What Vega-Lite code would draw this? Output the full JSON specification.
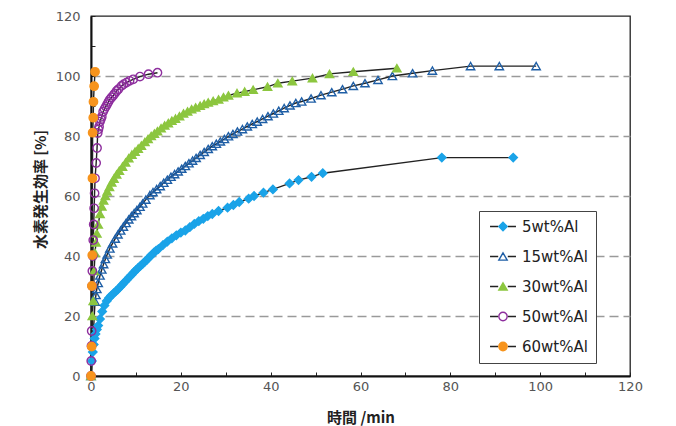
{
  "$schema": "https://vega.github.io/schema/vega-lite/v6.json",
  "width": 539,
  "height": 360,
  "autosize": "none",
  "padding": {"left": 91, "top": 16, "right": 46, "bottom": 50},
  "background": "white",
  "config": {
    "view": {"stroke": "#222", "strokeWidth": 1.3},
    "axis": {
      "labelFont": "DejaVu Sans", "labelFontSize": 13, "labelColor": "#555", "labelFlush": false, "labelOverlap": false,
      "titleFont": "Noto Sans CJK JP", "titleFontSize": 15, "titleFontWeight": "bold", "titleColor": "#222",
      "domainColor": "#111", "domainWidth": 2, "tickColor": "#222", "tickWidth": 1, "tickSize": -4
    }
  },
  "data": {"values": [
    {"series":"5wt%Al","time":0,"eff":0},{"series":"5wt%Al","time":0.2,"eff":5},{"series":"5wt%Al","time":0.4,"eff":8},{"series":"5wt%Al","time":0.6,"eff":10.5},{"series":"5wt%Al","time":0.8,"eff":12.5},{"series":"5wt%Al","time":1,"eff":14},{"series":"5wt%Al","time":1.3,"eff":15.5},{"series":"5wt%Al","time":1.6,"eff":16.8},{"series":"5wt%Al","time":2,"eff":19},{"series":"5wt%Al","time":2.5,"eff":21.5},{"series":"5wt%Al","time":3,"eff":23.5},{"series":"5wt%Al","time":3.5,"eff":25},{"series":"5wt%Al","time":4,"eff":26},{"series":"5wt%Al","time":4.5,"eff":26.8},{"series":"5wt%Al","time":5,"eff":27.5},{"series":"5wt%Al","time":5.5,"eff":28.2},{"series":"5wt%Al","time":6,"eff":28.9},{"series":"5wt%Al","time":6.5,"eff":29.7},{"series":"5wt%Al","time":7,"eff":30.5},{"series":"5wt%Al","time":7.5,"eff":31.3},{"series":"5wt%Al","time":8,"eff":32.1},{"series":"5wt%Al","time":8.5,"eff":32.9},{"series":"5wt%Al","time":9,"eff":33.7},{"series":"5wt%Al","time":9.5,"eff":34.5},{"series":"5wt%Al","time":10,"eff":35.3},{"series":"5wt%Al","time":10.5,"eff":36},{"series":"5wt%Al","time":11,"eff":36.7},{"series":"5wt%Al","time":11.5,"eff":37.4},{"series":"5wt%Al","time":12,"eff":38.1},{"series":"5wt%Al","time":12.5,"eff":38.8},{"series":"5wt%Al","time":13,"eff":39.6},{"series":"5wt%Al","time":13.5,"eff":40.4},{"series":"5wt%Al","time":14,"eff":41.1},{"series":"5wt%Al","time":14.5,"eff":41.8},{"series":"5wt%Al","time":15,"eff":42.3},{"series":"5wt%Al","time":16,"eff":43.6},{"series":"5wt%Al","time":17,"eff":44.8},{"series":"5wt%Al","time":18,"eff":45.9},{"series":"5wt%Al","time":19,"eff":46.9},{"series":"5wt%Al","time":20,"eff":47.8},{"series":"5wt%Al","time":21,"eff":48.5},{"series":"5wt%Al","time":22,"eff":49.6},{"series":"5wt%Al","time":23,"eff":50.7},{"series":"5wt%Al","time":24,"eff":51.6},{"series":"5wt%Al","time":25,"eff":52.4},{"series":"5wt%Al","time":26,"eff":53.3},{"series":"5wt%Al","time":27,"eff":54},{"series":"5wt%Al","time":28.4,"eff":55},{"series":"5wt%Al","time":30.4,"eff":56.1},{"series":"5wt%Al","time":31.7,"eff":57},{"series":"5wt%Al","time":33,"eff":58},{"series":"5wt%Al","time":35.1,"eff":59.1},{"series":"5wt%Al","time":36.3,"eff":60},{"series":"5wt%Al","time":38.4,"eff":61.1},{"series":"5wt%Al","time":40.5,"eff":62.2},{"series":"5wt%Al","time":44.2,"eff":64.2},{"series":"5wt%Al","time":46.2,"eff":65.3},{"series":"5wt%Al","time":49.1,"eff":66.4},{"series":"5wt%Al","time":51.6,"eff":67.6},{"series":"5wt%Al","time":78.1,"eff":72.8},{"series":"5wt%Al","time":94,"eff":72.8},
    {"series":"15wt%Al","time":0,"eff":0},{"series":"15wt%Al","time":0.9,"eff":24.8},{"series":"15wt%Al","time":1.1,"eff":27},{"series":"15wt%Al","time":1.3,"eff":29},{"series":"15wt%Al","time":1.6,"eff":31},{"series":"15wt%Al","time":2,"eff":33.5},{"series":"15wt%Al","time":2.4,"eff":35.5},{"series":"15wt%Al","time":2.8,"eff":37.3},{"series":"15wt%Al","time":3.2,"eff":39},{"series":"15wt%Al","time":3.6,"eff":40.5},{"series":"15wt%Al","time":4.2,"eff":42.5},{"series":"15wt%Al","time":4.8,"eff":44.2},{"series":"15wt%Al","time":5.4,"eff":45.8},{"series":"15wt%Al","time":6,"eff":47.2},{"series":"15wt%Al","time":6.6,"eff":48.5},{"series":"15wt%Al","time":7.2,"eff":49.8},{"series":"15wt%Al","time":7.8,"eff":51},{"series":"15wt%Al","time":8.4,"eff":52.2},{"series":"15wt%Al","time":9,"eff":53.3},{"series":"15wt%Al","time":9.6,"eff":54.3},{"series":"15wt%Al","time":10.2,"eff":55.3},{"series":"15wt%Al","time":10.9,"eff":56.4},{"series":"15wt%Al","time":11.5,"eff":57.5},{"series":"15wt%Al","time":12.2,"eff":58.8},{"series":"15wt%Al","time":13.1,"eff":60.3},{"series":"15wt%Al","time":13.8,"eff":61.3},{"series":"15wt%Al","time":14.6,"eff":62.3},{"series":"15wt%Al","time":15.4,"eff":63.3},{"series":"15wt%Al","time":16.2,"eff":64.4},{"series":"15wt%Al","time":17,"eff":65.4},{"series":"15wt%Al","time":17.8,"eff":66.4},{"series":"15wt%Al","time":18.6,"eff":67.3},{"series":"15wt%Al","time":19.4,"eff":68.2},{"series":"15wt%Al","time":20.2,"eff":69.1},{"series":"15wt%Al","time":21,"eff":70},{"series":"15wt%Al","time":21.8,"eff":70.9},{"series":"15wt%Al","time":22.6,"eff":71.8},{"series":"15wt%Al","time":23.4,"eff":72.7},{"series":"15wt%Al","time":24.3,"eff":73.7},{"series":"15wt%Al","time":25.2,"eff":74.7},{"series":"15wt%Al","time":26.1,"eff":75.7},{"series":"15wt%Al","time":27,"eff":76.6},{"series":"15wt%Al","time":27.9,"eff":77.4},{"series":"15wt%Al","time":28.8,"eff":78.2},{"series":"15wt%Al","time":29.7,"eff":79},{"series":"15wt%Al","time":30.6,"eff":79.9},{"series":"15wt%Al","time":31.6,"eff":80.7},{"series":"15wt%Al","time":32.6,"eff":81.5},{"series":"15wt%Al","time":33.7,"eff":82.3},{"series":"15wt%Al","time":34.8,"eff":83.2},{"series":"15wt%Al","time":35.9,"eff":84},{"series":"15wt%Al","time":37,"eff":84.8},{"series":"15wt%Al","time":38.2,"eff":85.7},{"series":"15wt%Al","time":39.4,"eff":86.6},{"series":"15wt%Al","time":40.6,"eff":87.5},{"series":"15wt%Al","time":41.8,"eff":88.4},{"series":"15wt%Al","time":43,"eff":89.3},{"series":"15wt%Al","time":44.3,"eff":90.2},{"series":"15wt%Al","time":45.6,"eff":91},{"series":"15wt%Al","time":46.9,"eff":91.5},{"series":"15wt%Al","time":49,"eff":92.5},{"series":"15wt%Al","time":51.2,"eff":93.6},{"series":"15wt%Al","time":53.6,"eff":94.6},{"series":"15wt%Al","time":56,"eff":95.6},{"series":"15wt%Al","time":58.4,"eff":96.7},{"series":"15wt%Al","time":61,"eff":97.6},{"series":"15wt%Al","time":63.9,"eff":98.7},{"series":"15wt%Al","time":67.1,"eff":100},{"series":"15wt%Al","time":71.6,"eff":100.9},{"series":"15wt%Al","time":76,"eff":101.8},{"series":"15wt%Al","time":84.5,"eff":103.3},{"series":"15wt%Al","time":90.9,"eff":103.3},{"series":"15wt%Al","time":99.1,"eff":103.3},
    {"series":"30wt%Al","time":0,"eff":0},{"series":"30wt%Al","time":0.3,"eff":20},{"series":"30wt%Al","time":0.5,"eff":25},{"series":"30wt%Al","time":0.7,"eff":35},{"series":"30wt%Al","time":0.9,"eff":41},{"series":"30wt%Al","time":1.1,"eff":44.5},{"series":"30wt%Al","time":1.3,"eff":47.5},{"series":"30wt%Al","time":1.6,"eff":50.5},{"series":"30wt%Al","time":2,"eff":54},{"series":"30wt%Al","time":2.4,"eff":56.5},{"series":"30wt%Al","time":2.8,"eff":58.5},{"series":"30wt%Al","time":3.2,"eff":60},{"series":"30wt%Al","time":3.6,"eff":61.5},{"series":"30wt%Al","time":4.1,"eff":63},{"series":"30wt%Al","time":4.6,"eff":64.5},{"series":"30wt%Al","time":5.1,"eff":65.8},{"series":"30wt%Al","time":5.7,"eff":67.2},{"series":"30wt%Al","time":6.3,"eff":68.4},{"series":"30wt%Al","time":7,"eff":69.8},{"series":"30wt%Al","time":7.7,"eff":71.2},{"series":"30wt%Al","time":8.4,"eff":72.6},{"series":"30wt%Al","time":9.1,"eff":73.8},{"series":"30wt%Al","time":9.8,"eff":74.8},{"series":"30wt%Al","time":10.5,"eff":75.8},{"series":"30wt%Al","time":11.2,"eff":76.8},{"series":"30wt%Al","time":12,"eff":78},{"series":"30wt%Al","time":12.7,"eff":79},{"series":"30wt%Al","time":13.4,"eff":80},{"series":"30wt%Al","time":14.1,"eff":80.8},{"series":"30wt%Al","time":14.8,"eff":81.6},{"series":"30wt%Al","time":15.6,"eff":82.6},{"series":"30wt%Al","time":16.4,"eff":83.5},{"series":"30wt%Al","time":17.2,"eff":84.3},{"series":"30wt%Al","time":18,"eff":85.1},{"series":"30wt%Al","time":18.8,"eff":85.8},{"series":"30wt%Al","time":19.7,"eff":86.6},{"series":"30wt%Al","time":20.6,"eff":87.5},{"series":"30wt%Al","time":21.5,"eff":88.2},{"series":"30wt%Al","time":22.4,"eff":88.9},{"series":"30wt%Al","time":23.3,"eff":89.5},{"series":"30wt%Al","time":24.3,"eff":90.1},{"series":"30wt%Al","time":25.2,"eff":90.7},{"series":"30wt%Al","time":26.1,"eff":91.2},{"series":"30wt%Al","time":27.2,"eff":91.7},{"series":"30wt%Al","time":28.4,"eff":92.2},{"series":"30wt%Al","time":29.5,"eff":92.9},{"series":"30wt%Al","time":30.6,"eff":93.5},{"series":"30wt%Al","time":32.5,"eff":94.3},{"series":"30wt%Al","time":34.2,"eff":94.8},{"series":"30wt%Al","time":36.1,"eff":95.4},{"series":"30wt%Al","time":39.3,"eff":96.4},{"series":"30wt%Al","time":41.6,"eff":97.6},{"series":"30wt%Al","time":44.8,"eff":98.3},{"series":"30wt%Al","time":49.3,"eff":99.3},{"series":"30wt%Al","time":53.1,"eff":100.7},{"series":"30wt%Al","time":58.4,"eff":101.4},{"series":"30wt%Al","time":68.1,"eff":102.6},
    {"series":"50wt%Al","time":0,"eff":0},{"series":"50wt%Al","time":0.05,"eff":5},{"series":"50wt%Al","time":0.1,"eff":10},{"series":"50wt%Al","time":0.15,"eff":15},{"series":"50wt%Al","time":0.25,"eff":30},{"series":"50wt%Al","time":0.3,"eff":35},{"series":"50wt%Al","time":0.4,"eff":40},{"series":"50wt%Al","time":0.5,"eff":45.3},{"series":"50wt%Al","time":0.6,"eff":50.5},{"series":"50wt%Al","time":0.7,"eff":55.9},{"series":"50wt%Al","time":0.8,"eff":60.9},{"series":"50wt%Al","time":0.9,"eff":65.9},{"series":"50wt%Al","time":1.15,"eff":71},{"series":"50wt%Al","time":1.35,"eff":76},{"series":"50wt%Al","time":1.5,"eff":81},{"series":"50wt%Al","time":1.65,"eff":82.2},{"series":"50wt%Al","time":1.8,"eff":83.1},{"series":"50wt%Al","time":2,"eff":84.8},{"series":"50wt%Al","time":2.2,"eff":85.6},{"series":"50wt%Al","time":2.4,"eff":86.4},{"series":"50wt%Al","time":2.7,"eff":88.1},{"series":"50wt%Al","time":3,"eff":89},{"series":"50wt%Al","time":3.3,"eff":89.8},{"series":"50wt%Al","time":3.6,"eff":90.6},{"series":"50wt%Al","time":3.9,"eff":91.4},{"series":"50wt%Al","time":4.2,"eff":92.2},{"series":"50wt%Al","time":4.6,"eff":92.9},{"series":"50wt%Al","time":5,"eff":93.6},{"series":"50wt%Al","time":5.3,"eff":94.2},{"series":"50wt%Al","time":5.7,"eff":95},{"series":"50wt%Al","time":6.1,"eff":95.6},{"series":"50wt%Al","time":6.8,"eff":96.7},{"series":"50wt%Al","time":7.3,"eff":97.3},{"series":"50wt%Al","time":7.9,"eff":97.8},{"series":"50wt%Al","time":8.6,"eff":98.4},{"series":"50wt%Al","time":9.4,"eff":98.9},{"series":"50wt%Al","time":10.9,"eff":99.8},{"series":"50wt%Al","time":12.8,"eff":100.6},{"series":"50wt%Al","time":14.8,"eff":101.1},
    {"series":"60wt%Al","time":0,"eff":0},{"series":"60wt%Al","time":0.15,"eff":9.8},{"series":"60wt%Al","time":0.2,"eff":30},{"series":"60wt%Al","time":0.28,"eff":40.3},{"series":"60wt%Al","time":0.32,"eff":65.9},{"series":"60wt%Al","time":0.36,"eff":81.1},{"series":"60wt%Al","time":0.5,"eff":86.1},{"series":"60wt%Al","time":0.55,"eff":91.4},{"series":"60wt%Al","time":0.7,"eff":96.6},{"series":"60wt%Al","time":0.9,"eff":101.4}
  ]},
  "encoding": {
    "x": {"field": "time", "type": "quantitative", "scale": {"domain": [0, 120], "nice": false},
      "axis": {"title": "時間 /min", "values": [0,10,20,30,40,50,60,70,80,90,100,110,120],
        "labelExpr": "datum.value % 20 === 0 ? datum.label : ''", "labelPadding": 8, "titlePadding": 17, "grid": false}},
    "y": {"field": "eff", "type": "quantitative", "scale": {"domain": [0, 120], "nice": false},
      "axis": {"title": "水素発生効率 [%]", "values": [0,10,20,30,40,50,60,70,80,90,100,110,120],
        "labelExpr": "datum.value % 20 === 0 ? datum.label : ''", "labelPadding": 15, "titlePadding": 7, "titleY": 173,
        "grid": true, "gridColor": "#9a9a9a", "gridDash": [9, 5], "gridWidth": 1.5,
        "gridOpacity": {"condition": {"test": "datum.value % 20 !== 0 || datum.value === 0 || datum.value === 120", "value": 0}, "value": 1}}}
  },
  "layer": [
    {
      "mark": {"type": "line", "color": "#222"},
      "encoding": {
        "strokeWidth": {"field": "series", "type": "nominal", "sort": ["5wt%Al","15wt%Al","30wt%Al","50wt%Al","60wt%Al"],
          "scale": {"range": [1.4,1.4,1.4,1.4,1.4]},
          "legend": {"title": null, "orient": "none", "legendX": 388, "legendY": 195, "padding": 8, "rowPadding": 14,
            "symbolType": "M-3.1,0H-1.15M1.15,0H3.1", "symbolSize": 70, "symbolStrokeColor": "#222", "symbolFillColor": "transparent",
            "symbolOffset": 8.5, "labelOffset": 11.5, "labelFont": "DejaVu Sans", "labelFontSize": 15, "labelColor": "transparent",
            "fillColor": "white", "strokeColor": "#444"}}
      }
    },
    {
      "mark": {"type": "point", "strokeWidth": 1.4, "opacity": 1, "size": 70},
      "encoding": {
        "shape": {"field": "series", "type": "nominal",
          "scale": {"domain": ["5wt%Al","15wt%Al","30wt%Al","50wt%Al","60wt%Al"], "range": ["diamond","triangle-up","triangle-up","circle","circle"]},
          "legend": {"title": null, "orient": "none", "legendX": 388, "legendY": 195, "padding": 8, "rowPadding": 14,
            "symbolSize": 70, "symbolStrokeWidth": 1.4, "symbolOffset": 8.5, "labelOffset": 11.5,
            "labelFont": "DejaVu Sans", "labelFontSize": 15, "labelColor": "#222"}},
        "fill": {"field": "series", "type": "nominal",
          "scale": {"domain": ["5wt%Al","15wt%Al","30wt%Al","50wt%Al","60wt%Al"], "range": ["#1aa3e8","transparent","#8cc63f","transparent","#f7941d"]},
          "legend": {"title": null, "orient": "none", "legendX": 388, "legendY": 195, "padding": 8, "rowPadding": 14,
            "symbolSize": 70, "symbolStrokeWidth": 1.4, "symbolOffset": 8.5, "labelOffset": 11.5,
            "labelFont": "DejaVu Sans", "labelFontSize": 15, "labelColor": "#222"}},
        "stroke": {"field": "series", "type": "nominal",
          "scale": {"domain": ["5wt%Al","15wt%Al","30wt%Al","50wt%Al","60wt%Al"], "range": ["#1aa3e8","#1f5fa6","#8cc63f","#8e2f9e","#f7941d"]},
          "legend": {"title": null, "orient": "none", "legendX": 388, "legendY": 195, "padding": 8, "rowPadding": 14,
            "symbolSize": 70, "symbolStrokeWidth": 1.4, "symbolOffset": 8.5, "labelOffset": 11.5,
            "labelFont": "DejaVu Sans", "labelFontSize": 15, "labelColor": "#222"}}
      }
    }
  ]
}
